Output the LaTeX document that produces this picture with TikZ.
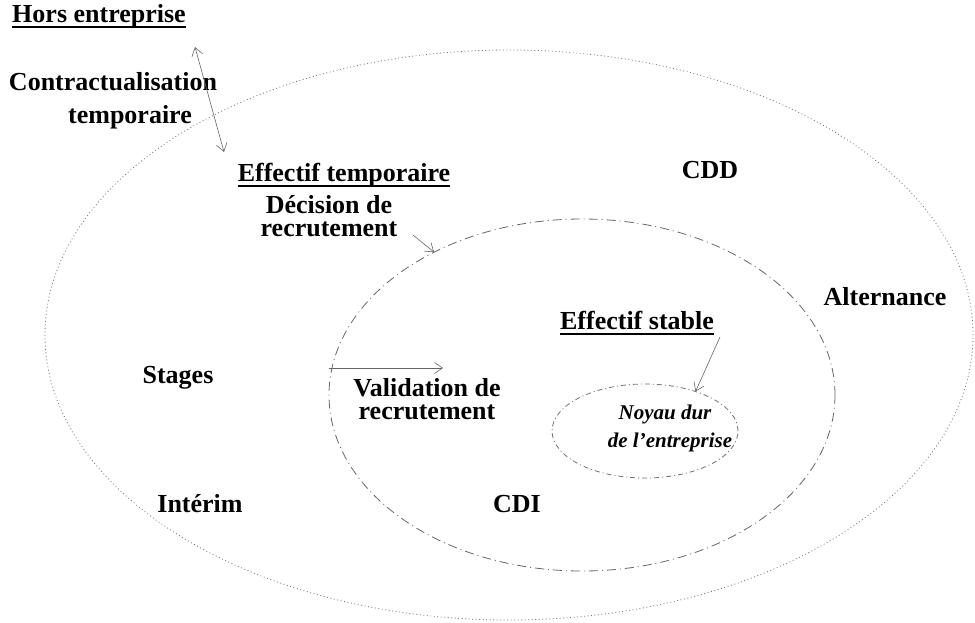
\documentclass[tikz,border=0pt]{standalone}
\usepackage{fontspec}
\setmainfont{Liberation Serif}
\usetikzlibrary{shapes.geometric,arrows.meta}

% underlined label: a rule a little below the baseline
\newcommand{\ulabel}[1]{\setbox0\hbox{#1}\rlap{\rule[-5.5pt]{\wd0}{1.9pt}}\box0}
% stacked lines, baseline on the first line
\newcommand{\twolines}[2]{\begin{tabular}[t]{@{}c@{}}#1\\#2\end{tabular}}

\tikzset{
  lbl/.style={font=\bfseries\fontsize{26}{23}\selectfont, inner sep=0pt, anchor=base},
  widelbl/.style={lbl, font=\bfseries\fontsize{26}{33}\selectfont},
  small/.style={font=\bfseries\itshape\fontsize{21}{28}\selectfont, inner sep=0pt, anchor=base},
  zone/.style={ellipse, inner sep=0pt, outer sep=0pt},
  outerzone/.style={zone, draw=black!55, line width=0.8pt, dash pattern=on 0.9pt off 2.6pt},
  stablezone/.style={zone, draw=black!60, line width=0.8pt, dash pattern=on 9pt off 4pt on 1pt off 4pt},
  corezone/.style={zone, draw=black!55, line width=0.8pt, dash pattern=on 5pt off 3pt on 1pt off 3pt},
  flow/.style={draw=black!60, line width=0.6pt, -{Straight Barb[length=8pt,width=11pt]}},
  flowboth/.style={flow, {Straight Barb[length=8pt,width=11pt]}-{Straight Barb[length=8pt,width=11pt]}}
}

\begin{document}
\begin{tikzpicture}[x=1pt,y=-1pt]
\useasboundingbox (0,0) rectangle (975,622);

% nested staff zones
\node[outerzone, minimum width=928pt, minimum height=570pt] (temp) at (509,335) {};
\node[stablezone, minimum width=506pt, minimum height=352pt] (stable) at (582,395) {};
\node[corezone, minimum width=186pt, minimum height=94pt] (core) at (645,431) {};

% labels
\node[lbl] (hors) at (99,22) {\ulabel{Hors entreprise}};
\node[widelbl] (contract) at (113,90) {\twolines{Contractualisation}{\hspace*{34pt}temporaire}};
\node[lbl] (efftemp) at (344,181) {\ulabel{Effectif temporaire}};
\node[lbl] (cdd) at (710,178) {CDD};
\node[lbl] (decision) at (329,213) {\twolines{Décision de}{recrutement}};
\node[lbl] (alt) at (885,305) {Alternance};
\node[lbl] (effstable) at (637,329) {\ulabel{Effectif stable}};
\node[lbl] (stages) at (178,383) {Stages};
\node[lbl] (valid) at (427,396) {\twolines{Validation de}{recrutement}};
\node[lbl] (interim) at (200,512) {Intérim};
\node[lbl] (cdi) at (517,512) {CDI};
\node[small] (corelbl) at (665,419) {\twolines{Noyau dur}{\hspace*{10pt}de l'entreprise}};

% arrow ends
\coordinate (h1) at (195,47);
\coordinate (h2) at (224,152);
\coordinate (d1) at (413,235);
\coordinate (v2) at (443,368);
\coordinate (s1) at (720,337);

% movements between zones
\draw[flowboth] (h1) -- (h2);
\draw[flow] (d1) -- (stable.136);
\draw[flow] (stable.west |- v2) -- (v2);
\draw[flow] (s1) -- (core.38);
\end{tikzpicture}
\end{document}
